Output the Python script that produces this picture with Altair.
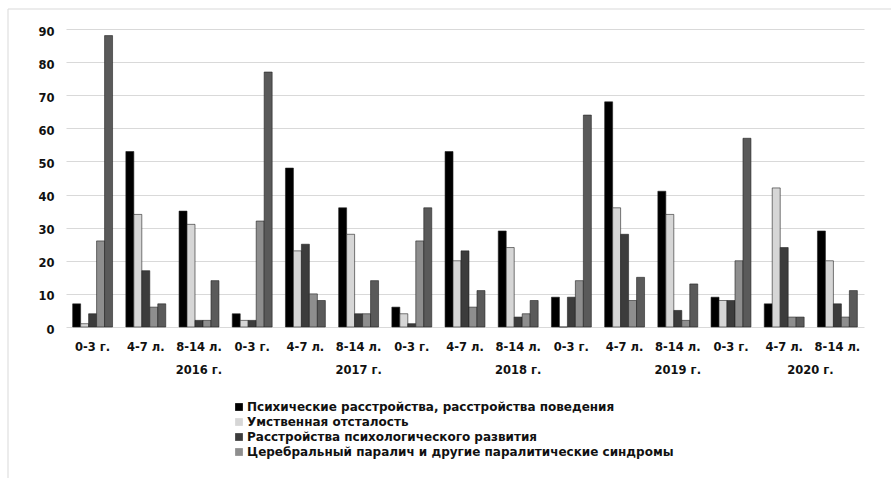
import altair as alt
import pandas as pd

# Categories
years = ["2016 г.", "2017 г.", "2018 г.", "2019 г.", "2020 г."]
ages = ["0-3 г.", "4-7 л.", "8-14 л."]

series = [
    "Психические расстройства, расстройства поведения",
    "Умственная отсталость",
    "Расстройства психологического развития",
    "Церебральный паралич и другие паралитические синдромы",
    "Прочие",
]

# Values per series, ordered year by year, age groups inside each year
psych = [7, 53, 35, 4, 48, 36, 6, 53, 29, 9, 68, 41, 9, 7, 29]
mental = [1, 34, 31, 2, 23, 28, 4, 20, 24, 0, 36, 34, 8, 42, 20]
devel = [4, 17, 2, 2, 25, 4, 1, 23, 3, 9, 28, 5, 8, 24, 7]
palsy = [26, 6, 2, 32, 10, 4, 26, 6, 4, 14, 8, 2, 20, 3, 3]
other = [88, 7, 14, 77, 8, 14, 36, 11, 8, 64, 15, 13, 57, 3, 11]

colors = ["#000000", "#d6d6d6", "#3c3c3c", "#8e8e8e", "#5a5a5a"]

FONT = "DejaVu Sans"
FS = 11.5

keys = [f"{y}|{a}" for y in years for a in ages]
rows = []
for s, vals in zip(series, [psych, mental, devel, palsy, other]):
    for k, v in zip(keys, vals):
        rows.append({"key": k, "series": s, "value": v})
df = pd.DataFrame(rows)

x_axis = alt.Axis(
    title=None,
    labelExpr="split(datum.label, '|')[1]",
    labelAngle=0,
    tickSize=0,
    domain=False,
    grid=False,
    labelPadding=14,
    labelFont=FONT,
    labelFontSize=FS,
    labelFontWeight="bold",
    labelColor="#111",
)

bars = alt.Chart(df).mark_bar(stroke="#222", strokeWidth=0.6).encode(
    x=alt.X(
        "key:N",
        sort=keys,
        scale=alt.Scale(paddingInner=0.25, paddingOuter=0.125),
        axis=x_axis,
    ),
    xOffset=alt.XOffset(
        "series:N", sort=series, scale=alt.Scale(paddingInner=0, paddingOuter=0)
    ),
    y=alt.Y(
        "value:Q",
        scale=alt.Scale(domain=[0, 90], nice=False),
        axis=alt.Axis(
            title=None,
            values=list(range(0, 91, 10)),
            tickSize=0,
            domain=False,
            labelPadding=12,
            labelOffset=3,
            labelFont=FONT,
            labelFontSize=FS,
            labelFontWeight="bold",
            labelColor="#111",
            gridColor="#d9d9d9",
            gridWidth=1.2,
        ),
    ),
    color=alt.Color(
        "series:N",
        sort=series,
        scale=alt.Scale(domain=series, range=colors),
        legend=alt.Legend(
            values=series[:4],
            title=None,
            orient="none",
            legendX=167,
            legendY=372,
            direction="vertical",
            symbolType="square",
            symbolSize=60,
            symbolStrokeWidth=0,
            labelFont=FONT,
            labelFontSize=12,
            labelFontWeight="bold",
            labelColor="#111",
            labelLimit=0,
            labelOffset=2,
            rowPadding=3,
            padding=0,
        ),
    ),
)

# Year captions under the age labels
year_df = pd.DataFrame({"key": [f"{y}|{ages[2]}" for y in years], "label": years})

year_text = alt.Chart(year_df[year_df["label"] != years[-1]]).mark_text(
    font=FONT, fontSize=FS, fontWeight="bold", color="#111", baseline="middle"
).encode(x=alt.X("key:N", sort=keys), y=alt.value(342), text="label:N")

year_text_last = alt.Chart(year_df[year_df["label"] == years[-1]]).mark_text(
    font=FONT, fontSize=FS, fontWeight="bold", color="#111", baseline="middle", dx=-27
).encode(x=alt.X("key:N", sort=keys), y=alt.value(342), text="label:N")

# Light frame around the chart area
frame = alt.Chart(pd.DataFrame({"f": [0]})).mark_rect(
    fillOpacity=0, stroke="#d9d9d9", strokeWidth=1
).encode(x=alt.value(-58), x2=alt.value(900), y=alt.value(-20), y2=alt.value(500))

chart = (
    alt.layer(bars, year_text, year_text_last, frame)
    .properties(
        width=798,
        height=298,
        autosize=alt.AutoSizeParams(type="none"),
        padding={"left": 66, "top": 29, "right": 27, "bottom": 151},
        background="white",
    )
    .configure_view(strokeWidth=0)
)

chart.save("out.html", embed_options={"renderer": "svg", "actions": False})
